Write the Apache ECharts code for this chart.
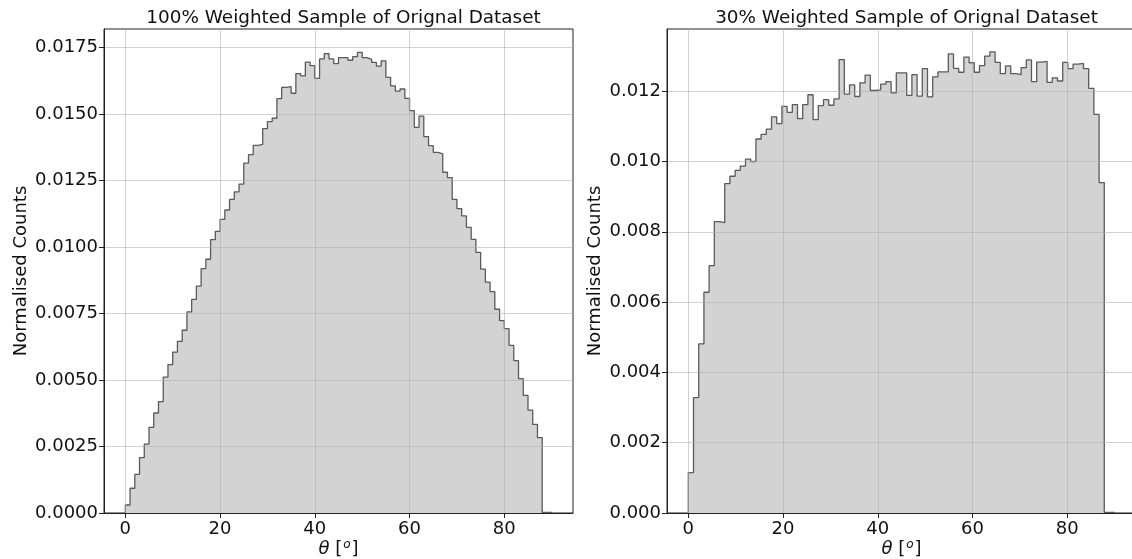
<!DOCTYPE html>
<html><head><meta charset="utf-8">
<script src="https://cdn.jsdelivr.net/npm/echarts@6/dist/echarts.min.js"></script>
<style>html,body{margin:0;padding:0;background:#fff}#c{width:1132px;height:559px}</style>
</head><body><div id="c"></div>
<script>
const leftTitle = '100% Weighted Sample of Orignal Dataset';
const rightTitle = '30% Weighted Sample of Orignal Dataset';
const yName = 'Normalised Counts';
const xTicks = [0, 20, 40, 60, 80];
const leftYTicks = [0, 0.0025, 0.005, 0.0075, 0.01, 0.0125, 0.015, 0.0175];
const rightYTicks = [0, 0.002, 0.004, 0.006, 0.008, 0.010, 0.012];

// histogram bins (100% sample): 90 bins of width 1 starting at 0
const leftBinStart = 0;
const leftBinWidth = 1;
const leftCounts = [
  0.00030, 0.00093, 0.00145, 0.00208, 0.00259, 0.00322, 0.00376, 0.00419, 0.00511, 0.00558,
  0.00605, 0.00645, 0.00687, 0.00756, 0.00803, 0.00853, 0.00919, 0.00954, 0.01028, 0.01059,
  0.01104, 0.01139, 0.01179, 0.01207, 0.01236, 0.01315, 0.01347, 0.01382, 0.01386, 0.01445,
  0.01471, 0.01484, 0.01558, 0.01600, 0.01603, 0.01578, 0.01652, 0.01643, 0.01695, 0.01682,
  0.01634, 0.01707, 0.01727, 0.01707, 0.01689, 0.01712, 0.01712, 0.01702, 0.01716, 0.01732,
  0.01712, 0.01705, 0.01694, 0.01680, 0.01700, 0.01638, 0.01606, 0.01586, 0.01594, 0.01559,
  0.01513, 0.01450, 0.01492, 0.01415, 0.01381, 0.01356, 0.01350, 0.01281, 0.01261, 0.01179,
  0.01144, 0.01117, 0.01074, 0.01029, 0.00980, 0.00917, 0.00868, 0.00832, 0.00766, 0.00723,
  0.00693, 0.00630, 0.00573, 0.00505, 0.00442, 0.00387, 0.00333, 0.00283, 0.00002, 0.00002
];

// histogram bins (30% sample): 82 bins spanning 0..90
const rightBinStart = 0;
const rightBinWidth = 90 / 82;
const rightCounts = [
  0.00115, 0.00328, 0.00481, 0.00628, 0.00704, 0.00829, 0.00826, 0.00937, 0.00958, 0.00975,
  0.00987, 0.01007, 0.01000, 0.01064, 0.01077, 0.01092, 0.01127, 0.01108, 0.01157, 0.01140,
  0.01162, 0.01122, 0.01162, 0.01190, 0.01119, 0.01159, 0.01176, 0.01160, 0.01178, 0.01290,
  0.01192, 0.01218, 0.01185, 0.01224, 0.01246, 0.01202, 0.01204, 0.01220, 0.01227, 0.01195,
  0.01252, 0.01252, 0.01188, 0.01247, 0.01186, 0.01264, 0.01184, 0.01241, 0.01255, 0.01255,
  0.01306, 0.01265, 0.01254, 0.01297, 0.01281, 0.01254, 0.01273, 0.01300, 0.01312, 0.01282,
  0.01250, 0.01272, 0.01250, 0.01247, 0.01267, 0.01289, 0.01227, 0.01283, 0.01285, 0.01225,
  0.01238, 0.01229, 0.01282, 0.01264, 0.01277, 0.01279, 0.01264, 0.01208, 0.01134, 0.00940,
  0.00002, 0.00002
];

function stepPoints(start, width, counts) {
  const pts = [[start, 0]];
  counts.forEach((v, i) => pts.push([start + i * width, v]));
  const end = start + counts.length * width;
  pts.push([end, counts[counts.length - 1]]);
  pts.push([end, 0]);
  return pts;
}

const FONT = 'DejaVu Sans';
const TXT = '#111';
const SPINE = '#222';
const GRIDC = 'rgba(176,176,176,0.6)';

function xAxisCfg(gi) {
  return {
    type: 'value', gridIndex: gi, min: -4.5, max: 94.5, z: 5,
    name: '{i|θ} [{s|o}]', nameLocation: 'middle', nameGap: 26, nameMoveOverlap: false,
    nameTextStyle: {
      fontSize: 18, color: TXT, fontFamily: FONT, lineHeight: 20,
      rich: {
        i: { fontStyle: 'italic', fontSize: 18, fontFamily: FONT, color: TXT, lineHeight: 20 },
        s: { fontStyle: 'italic', fontSize: 12, fontFamily: FONT, color: TXT, lineHeight: 20, verticalAlign: 'top', padding: [0, 1, 6, 1] }
      }
    },
    axisLine: { show: true, onZero: false, lineStyle: { color: SPINE, width: 1 } },
    axisTick: { show: true, inside: false, length: 5, customValues: xTicks, lineStyle: { color: SPINE, width: 1 } },
    axisLabel: { customValues: xTicks, fontSize: 18, color: TXT, fontFamily: FONT, margin: 7 },
    splitLine: { show: true, lineStyle: { color: GRIDC, width: 1 } }
  };
}
function yAxisCfg(gi, max, ticks, dec, gap) {
  return {
    type: 'value', gridIndex: gi, min: 0, max: max, z: 5,
    name: yName, nameLocation: 'middle', nameGap: gap, nameMoveOverlap: false,
    nameTextStyle: { fontSize: 18, color: TXT, fontFamily: FONT },
    axisLine: { show: true, onZero: false, lineStyle: { color: SPINE, width: 1 } },
    axisTick: { show: true, inside: false, length: 5, customValues: ticks, lineStyle: { color: SPINE, width: 1 } },
    axisLabel: { customValues: ticks, fontSize: 18, color: TXT, fontFamily: FONT, margin: 6,
                 formatter: v => v.toFixed(dec) },
    splitLine: { show: true, lineStyle: { color: GRIDC, width: 1 } }
  };
}
function histSeries(gi, pts) {
  return {
    type: 'line', xAxisIndex: gi, yAxisIndex: gi, step: 'end', data: pts,
    symbol: 'none', silent: true, animation: false, z: 2,
    lineStyle: { color: '#5a5a5a', width: 1.3 },
    areaStyle: { color: '#d3d3d3', opacity: 1 }
  };
}

const chart = echarts.init(document.getElementById('c'), null, { renderer: 'canvas' });
chart.setOption({
  animation: false,
  backgroundColor: '#fff',
  title: [
    { text: leftTitle, left: 338.5, top: 4, textAlign: 'center',
      textStyle: { fontSize: 18.4, fontWeight: 'normal', color: TXT, fontFamily: FONT } },
    { text: rightTitle, left: 901.5, top: 4, textAlign: 'center',
      textStyle: { fontSize: 18.4, fontWeight: 'normal', color: TXT, fontFamily: FONT } }
  ],
  grid: [
    { left: 104, top: 29, width: 469, height: 484, outerBoundsMode: 'none', containLabel: false,
      show: true, borderColor: SPINE, borderWidth: 1, backgroundColor: 'transparent' },
    { left: 667, top: 29, width: 469, height: 484, outerBoundsMode: 'none', containLabel: false,
      show: true, borderColor: SPINE, borderWidth: 1, backgroundColor: 'transparent' }
  ],
  xAxis: [xAxisCfg(0), xAxisCfg(1)],
  yAxis: [yAxisCfg(0, 0.018195, leftYTicks, 4, 74), yAxisCfg(1, 0.01377, rightYTicks, 3, 63)],
  series: [
    histSeries(0, stepPoints(leftBinStart, leftBinWidth, leftCounts)),
    histSeries(1, stepPoints(rightBinStart, rightBinWidth, rightCounts))
  ]
});
</script>
</body></html>
